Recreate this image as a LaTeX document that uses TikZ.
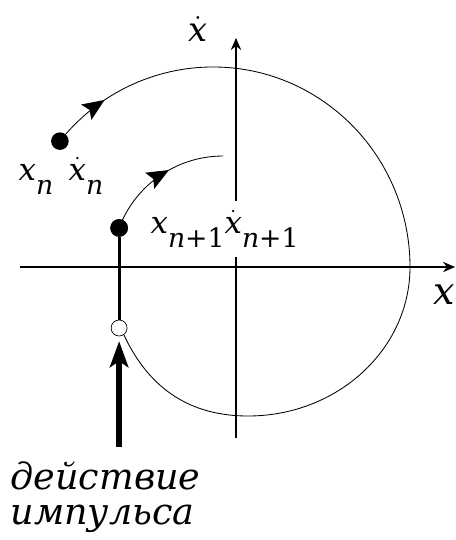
\documentclass[tikz,border=0pt]{standalone}
\usepackage{fontspec}
\setmainfont{DejaVu Serif}
\newfontfamily\tnr{DejaVu Serif}
\usetikzlibrary{arrows.meta,decorations.markings}

% dotted x and lowered index, as in the phase plane labels
\newcommand{\xdot}{$\dot{\hbox{x}}$}
\newcommand{\idx}[1]{\raisebox{-10pt}{\fontsize{19}{19}\selectfont #1}}

\tikzset{
	fulldot/.style={circle,fill=black,inner sep=0pt,minimum size=4.4mm},
	opendot/.style={circle,draw=black,fill=white,inner sep=0pt,minimum size=4mm,line width=0.5pt},
	traj/.style={line width=0.6pt},
	midarrow/.style={postaction={decorate},decoration={markings,
			mark=at position #1 with {\arrow{Stealth[length=5.5mm,width=4.6mm,inset=1mm]}}}},
	lbl/.style={font=\tnr\fontsize{22}{28}\selectfont\itshape,inner sep=0pt},
	rus/.style={font=\tnr\fontsize{26}{25}\selectfont\itshape,inner sep=0pt,align=left},
}

\begin{document}
\begin{tikzpicture}[line width=0.8pt]
	
	\useasboundingbox (-5.9,-6.825) rectangle (5.5,6.675);
	
	% Parameters
	\def\Ra{4.925}     % outer arc, x radius
	\def\Rb{5}         % outer arc, y radius
	\def\rin{2.775}    % inner arc radius
	
	% Axes
	\coordinate (xmin) at (-5.4,0);
	\coordinate (xmax) at (5.475,0);
	\coordinate (ymin) at (0,-4.275);
	\coordinate (ymax) at (0,5.725);
	\draw[-{Stealth[length=3mm,width=2.6mm]}] (xmin) -- (xmax);
	\draw[-{Stealth[length=3mm,width=2.6mm]}] (ymin) -- (ymax);
	
	% States
	\node[fulldot] (xn) at (-4.402,3.147) {};
	\node[fulldot] (xn1) at (-2.922,0.976) {};
	\node[opendot] (oc) at (-2.922,-1.525) {};
	\coordinate (cross) at (4.35,0);
	\coordinate (imp) at (-2.922,-4.5);
	
	% Trajectories
	\draw[traj,midarrow=0.125] (xn.center) arc[start angle=141,end angle=0,x radius=\Ra,y radius=\Rb];
	\draw[traj,midarrow=0.58] (xn1.center) arc[start angle=159.4,end angle=90,radius=\rin];
	\draw[traj] (cross) arc[start angle=0,end angle=-90,x radius=4.05,y radius=3.725]
		.. controls +(180:1.7) and +(-65:1.2) .. (oc.-55);
	
	% Jump and impulse
	\draw[line width=2pt] (xn1) -- (oc);
	\draw[line width=4pt,-{Stealth[length=6.5mm,width=4.6mm,inset=1.5mm]},shorten >=1.2mm] (imp) -- (oc);
	\node[fulldot] at (xn1) {};
	
	% Labels
	\node[lbl,font=\tnr\fontsize{24}{28}\selectfont\itshape] (ylbl) at (-0.95,5.95) {\xdot};
	\node[lbl,font=\tnr\fontsize{27}{30}\selectfont\itshape,anchor=east] (xlbl) at (5.49,-0.68) {x};
	\node[lbl,anchor=base west] (xn lbl) at (-5.45,2.175) {x\idx{n}\enspace\xdot\idx{n}};
	\node[lbl,anchor=base west,fill=white,inner ysep=7pt] (xn1 lbl) at (-2.15,0.85)
		{x\idx{n\upshape +1}\xdot\idx{n\upshape +1}};
	\node[rus,anchor=north west] (impulse) at (-5.65,-4.85) {действие\\импульса};
	
\end{tikzpicture}
\end{document}
